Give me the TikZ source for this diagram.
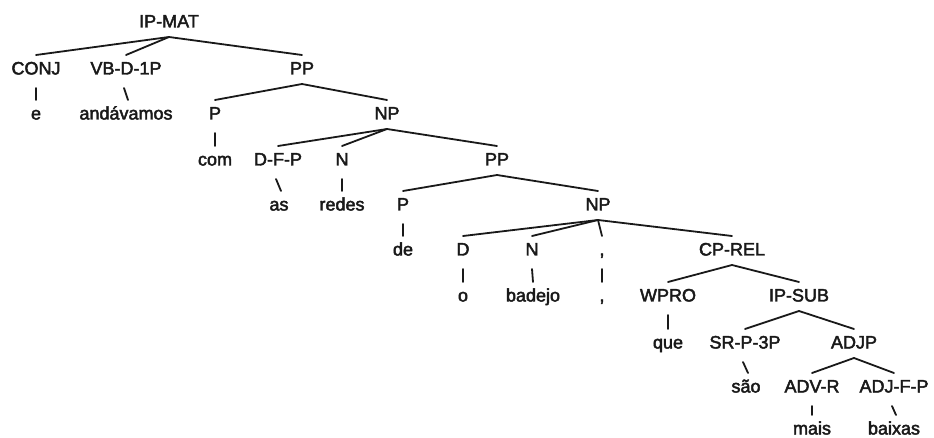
\documentclass[tikz,border=0pt]{standalone}
\usepackage{fontspec}
\setmainfont{Liberation Sans}
% tree branches: parent to child, and to a leaf word
\newcommand\tbr[2]{\draw[treeline] ([yshift=-9.5pt]#1.base) -- ([yshift=19.5pt]#2.base);}
\newcommand\tun[3][0]{\draw[treeline] ([xshift=-#1pt,yshift=-13.5pt]#2.base) -- ([xshift=#1pt,yshift=19.5pt]#3.base);}
\begin{document}
\begin{tikzpicture}[x=1pt,y=-1pt,
  % labels are filled and lightly stroked for slightly heavier glyphs
  lab/.style={anchor=base,yshift=-6.5pt,inner sep=0pt,
    font=\fontsize{18}{18}\selectfont,text=black!90,
    execute at begin node=\special{pdf:code 2 Tr 0.45 w},
    execute at end node=\special{pdf:code 0 Tr}},
  treeline/.style={line width=1.8pt,draw=black!90,line cap=round}]
\useasboundingbox (0,0) rectangle (934,438);

% level 0
\node[lab] (ipmat) at (169,21) {IP-MAT};
% level 1
\node[lab] (conj) at (36,68) {CONJ};
\node[lab] (vb) at (126,68) {VB-D-1P};
\node[lab] (pp1) at (302,68) {PP};
% level 2
\node[lab] (e) at (36,113) {e};
\node[lab] (andavamos) at (126,113) {andávamos};
\node[lab] (p1) at (215,113) {P};
\node[lab] (np1) at (387,113) {NP};
% level 3
\node[lab] (com) at (215,159) {com};
\node[lab] (dfp) at (278,159) {D-F-P};
\node[lab] (n1) at (342,159) {N};
\node[lab] (pp2) at (497,159) {PP};
% level 4
\node[lab] (as) at (279,204) {as};
\node[lab] (redes) at (342,204) {redes};
\node[lab] (p2) at (403,204) {P};
\node[lab] (np2) at (598,204) {NP};
% level 5
\node[lab] (de) at (403,249) {de};
\node[lab] (d) at (463,249) {D};
\node[lab] (n2) at (532,249) {N};
\node[lab] (pu) at (602,249) {,};
\node[lab] (cprel) at (732,249) {CP-REL};
% level 6
\node[lab] (o) at (463,295) {o};
\node[lab] (badejo) at (533,295) {badejo};
\node[lab] (puw) at (602,295) {,};
\node[lab] (wpro) at (668,295) {WPRO};
\node[lab] (ipsub) at (799,295) {IP-SUB};
% level 7
\node[lab] (que) at (668,342) {que};
\node[lab] (sr) at (745,342) {SR-P-3P};
\node[lab] (adjp) at (854,342) {ADJP};
% level 8
\node[lab] (sao) at (746,386) {são};
\node[lab] (advr) at (812,386) {ADV-R};
\node[lab] (adjfp) at (894,386) {ADJ-F-P};
% level 9
\node[lab] (mais) at (812,428) {mais};
\node[lab] (baixas) at (894,428) {baixas};

% branches
\tbr{ipmat}{conj} \tbr{ipmat}{vb} \tbr{ipmat}{pp1}
\tun{conj}{e} \tun[2]{vb}{andavamos}
\tbr{pp1}{p1} \tbr{pp1}{np1}
\tun{p1}{com}
\tbr{np1}{dfp} \tbr{np1}{n1} \tbr{np1}{pp2}
\tun[2]{dfp}{as} \tun{n1}{redes}
\tbr{pp2}{p2} \tbr{pp2}{np2}
\tun{p2}{de}
\tbr{np2}{d} \tbr{np2}{n2} \tbr{np2}{pu} \tbr{np2}{cprel}
\tun{d}{o} \tun{n2}{badejo} \tun{pu}{puw}
\tbr{cprel}{wpro} \tbr{cprel}{ipsub}
\tun{wpro}{que}
\tbr{ipsub}{sr} \tbr{ipsub}{adjp}
\tun[2]{sr}{sao}
\tbr{adjp}{advr} \tbr{adjp}{adjfp}
\tun{advr}{mais} \tun[2]{adjfp}{baixas}
\end{tikzpicture}
\end{document}
